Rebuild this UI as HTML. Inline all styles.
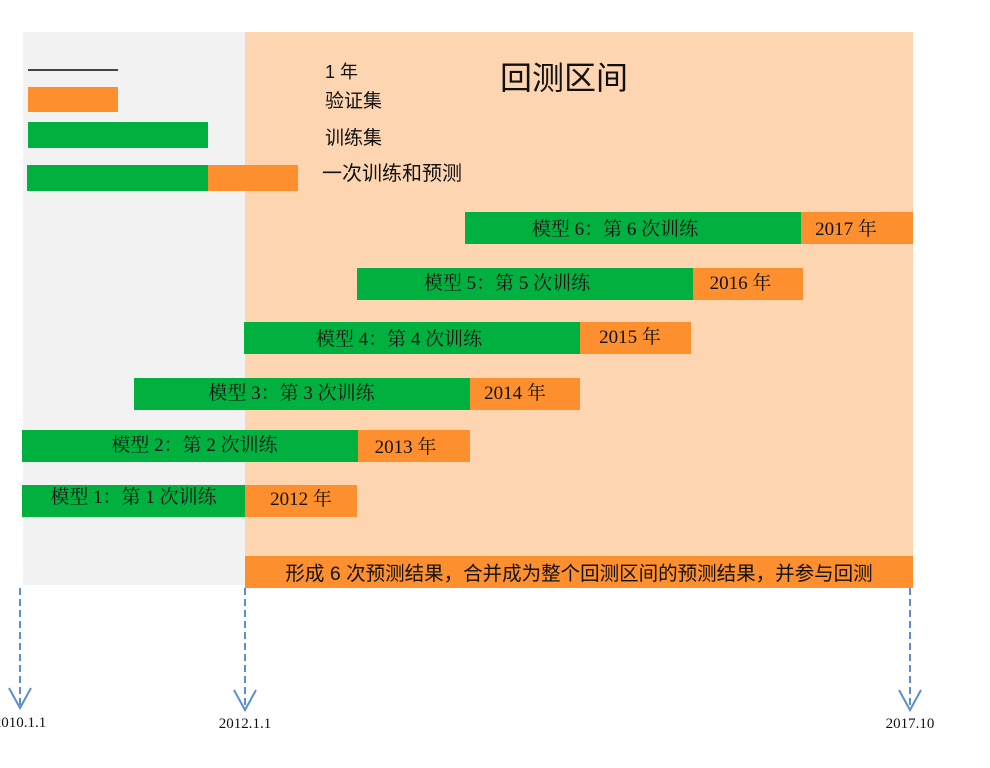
<!DOCTYPE html>
<html><head><meta charset="utf-8"><style>
body{margin:0;width:990px;height:768px;background:#fff;position:relative;overflow:hidden;font-family:"Liberation Serif","Noto Serif CJK SC","Noto Sans CJK SC",serif;}
.a{position:absolute;}
.g{background:#00b140;}
.o{background:#fd8f2f;}
.t{position:absolute;font-size:19px;color:#111;line-height:32px;text-align:center;white-space:nowrap;}
.s{font-family:"Liberation Sans","Noto Sans CJK SC",sans-serif;}
</style></head><body>
<div class="a" style="left:23px;top:32px;width:222px;height:553px;background:#f2f2f2"></div>
<div class="a" style="left:245px;top:32px;width:668px;height:524px;background:#fdd5b1"></div>
<div class="a" style="left:28px;top:69px;width:90px;height:2px;background:#444"></div>
<div class="a o" style="left:28px;top:87px;width:90px;height:25px"></div>
<div class="a g" style="left:28px;top:122px;width:180px;height:26px"></div>
<div class="a g" style="left:27px;top:165px;width:181px;height:26px"></div>
<div class="a o" style="left:208px;top:165px;width:90px;height:26px"></div>
<div class="t s" style="left:325px;top:56px;font-size:18px">1 年</div>
<div class="t s" style="left:325px;top:86px;font-size:19px">验证集</div>
<div class="t s" style="left:325px;top:123px;font-size:19px">训练集</div>
<div class="t s" style="left:322px;top:158px;font-size:20px">一次训练和预测</div>
<div class="t s" style="left:500px;top:58px;font-size:32px;line-height:40px">回测区间</div>

<div class="a g" style="left:465px;top:212px;width:336px;height:32px"></div><div class="a o" style="left:801px;top:212px;width:112px;height:32px"></div>
<div class="t" style="left:465px;top:214px;width:300px">模型 6：第 6 次训练</div><div class="t" style="left:801px;top:214px;width:90px">2017 年</div>
<div class="a g" style="left:357px;top:268px;width:336px;height:32px"></div><div class="a o" style="left:693px;top:268px;width:110px;height:32px"></div>
<div class="t" style="left:357px;top:268px;width:300px">模型 5：第 5 次训练</div><div class="t" style="left:693px;top:268px;width:95px">2016 年</div>
<div class="a g" style="left:244px;top:322px;width:336px;height:32px"></div><div class="a o" style="left:580px;top:322px;width:111px;height:32px"></div>
<div class="t" style="left:244px;top:324px;width:310px">模型 4：第 4 次训练</div><div class="t" style="left:580px;top:322px;width:100px">2015 年</div>
<div class="a g" style="left:134px;top:378px;width:336px;height:32px"></div><div class="a o" style="left:470px;top:378px;width:110px;height:32px"></div>
<div class="t" style="left:134px;top:378px;width:315px">模型 3：第 3 次训练</div><div class="t" style="left:470px;top:378px;width:90px">2014 年</div>
<div class="a g" style="left:22px;top:430px;width:336px;height:32px"></div><div class="a o" style="left:358px;top:430px;width:112px;height:32px"></div>
<div class="t" style="left:22px;top:430px;width:345px">模型 2：第 2 次训练</div><div class="t" style="left:358px;top:432px;width:95px">2013 年</div>
<div class="a g" style="left:22px;top:485px;width:223px;height:32px"></div><div class="a o" style="left:245px;top:485px;width:112px;height:32px"></div>
<div class="t" style="left:22px;top:482px;width:223px">模型 1：第 1 次训练</div><div class="t" style="left:245px;top:484px;width:112px">2012 年</div>

<div class="a o" style="left:245px;top:556px;width:668px;height:32px"></div>
<div class="t s" style="left:245px;top:558px;width:668px;font-size:19.5px">形成 6 次预测结果，合并成为整个回测区间的预测结果，并参与回测</div>

<svg class="a" style="left:0;top:0" width="990" height="768">
<g stroke="#5b8fcf" stroke-width="2" fill="none">
<line x1="20" y1="588" x2="20" y2="705" stroke-dasharray="7,4"/>
<line x1="245" y1="588" x2="245" y2="705" stroke-dasharray="7,4"/>
<line x1="910" y1="588" x2="910" y2="705" stroke-dasharray="7,4"/>
<polyline points="9,688 20,708 31,688"/>
<polyline points="234,690 245,710 256,690"/>
<polyline points="899,690 910,710 921,690"/>
</g></svg>
<div class="t" style="left:-10px;top:707px;font-size:15px;width:60px">2010.1.1</div>
<div class="t" style="left:205px;top:708px;font-size:15px;width:80px">2012.1.1</div>
<div class="t" style="left:870px;top:708px;font-size:15px;width:80px">2017.10</div>
</body></html>
